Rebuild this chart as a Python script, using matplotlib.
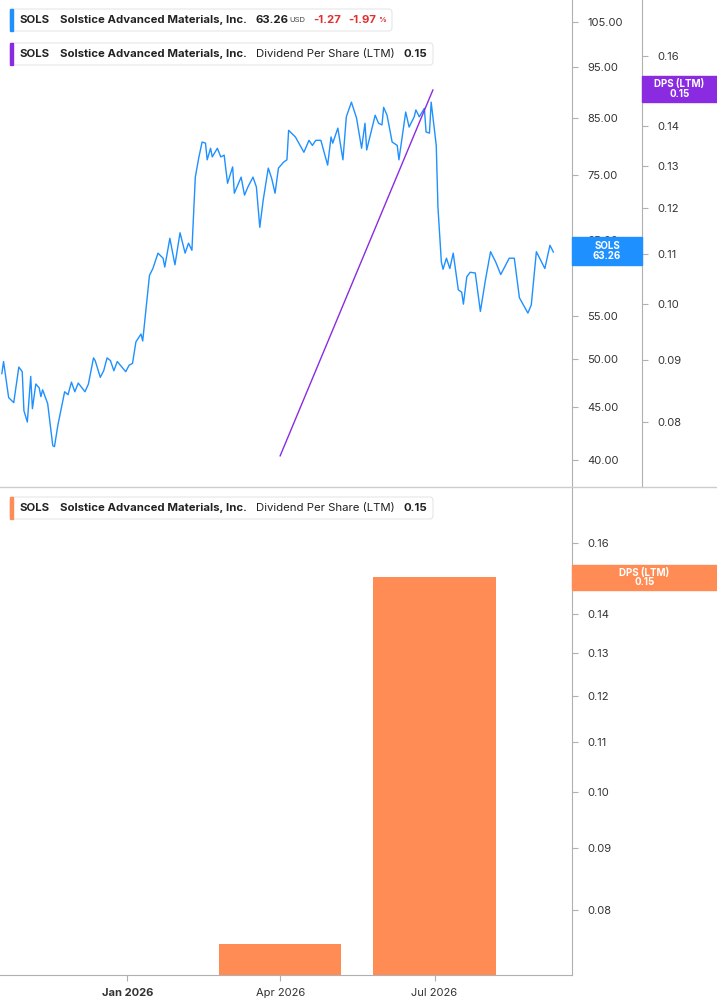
import numpy as np
import pandas as pd
import matplotlib
matplotlib.use("Agg")
import matplotlib.pyplot as plt
import matplotlib.dates as mdates
from matplotlib.patches import Rectangle, FancyBboxPatch
from matplotlib.ticker import FixedLocator, NullLocator

plt.rcParams['font.family'] = ['Inter', 'DejaVu Sans']

base = pd.Timestamp("2026-01-01")
price_days = [-74,-73,-70,-67,-65,-64,-62,-61,-59,-57,-56,-54,-52,-51,-50,-47,-44,-43,-42,-41,-37,-35,-33,-31,-29,-25,-23,-20,-19,-16,-14,-12,-10,-8,-6,-1,1,3,5,8,9,13,15,18,21,22,25,28,31,34,36,38,40,42,44,46,47,49,50,53,55,57,59,62,63,67,69,71,74,76,78,80,83,85,87,89,92,94,95,99,104,107,109,111,114,118,120,121,124,127,129,132,135,138,140,141,146,148,150,151,153,156,159,160,164,166,169,170,172,175,176,178,179,182,183,185,186,188,190,192,195,197,198,200,202,205,208,211,214,217,220,225,228,231,236,238,241,246,249,251]
prices = [48.4,49.7,45.9,45.4,47.8,49.1,48.6,44.6,43.5,48.1,44.8,47.3,46.9,46.0,46.7,45.3,41.3,41.2,42.2,43.2,46.5,46.2,47.5,46.5,47.4,46.5,47.3,50.1,49.8,48.0,48.7,50.1,49.8,48.7,49.7,48.6,49.3,49.5,51.9,52.8,52.0,60.1,61.0,63.1,62.4,61.2,65.2,61.5,66.0,63.1,64.5,63.5,74.6,77.8,80.6,80.4,77.5,79.5,78.0,79.5,78.0,78.3,73.6,76.3,72.0,74.6,71.7,73.0,74.6,73.0,66.8,70.9,76.1,74.4,72.0,76.1,77.1,77.5,82.7,81.5,78.8,80.9,80.0,80.9,80.9,76.6,81.5,80.4,83.1,77.5,85.2,88.0,85.0,79.5,84.0,79.2,85.5,84.0,83.7,87.0,85.5,80.6,80.0,77.5,86.1,83.3,85.2,86.5,85.2,86.8,82.4,82.2,88.0,80.0,69.8,61.9,60.9,62.4,61.0,63.1,58.2,57.9,56.4,59.9,60.5,60.4,55.5,59.5,63.3,61.9,60.2,62.4,62.4,57.2,55.3,56.3,63.3,61.0,64.2,63.26]
dps_line_dates = ["2026-04-01", "2026-06-30"]
dps_line_values = [0.075, 0.15]
bar_dates = ["2026-04-01", "2026-07-01"]
bar_values = [0.075, 0.15]
price_ticks = [40, 45, 50, 55, 65, 75, 85, 95, 105]
dps_ticks = [0.08, 0.09, 0.10, 0.11, 0.12, 0.13, 0.14, 0.16]
xtick_dates = ["2026-01-01", "2026-04-01", "2026-07-01"]
xtick_labels = ["Jan 2026", "Apr 2026", "Jul 2026"]

W, H = 717, 1005
fig = plt.figure(figsize=(W/100, H/100), dpi=100)
def fx(px): return px / W
def fy(py): return 1 - py / H

BLUE = "#1e90ff"; PURPLE = "#8a2be2"; ORANGE = "#ff8c55"; GRID = "#b0b0b0"; TXT = "#333333"

xmin = base + pd.Timedelta(days=-75.1)
xmax = base + pd.Timedelta(days=262)
pdates = [base + pd.Timedelta(days=d) for d in price_days]

# top panel
ax = fig.add_axes([0, fy(487), fx(572), 487/H])
ax.plot(pdates, prices, color=BLUE, lw=1.0)
ax.set_yscale('log')
ax.set_ylim(37.7, 110.2)
ax.set_xlim(xmin, xmax)
ax.xaxis.set_major_locator(NullLocator())

ax2 = ax.twinx()
ax2.plot(pd.to_datetime(dps_line_dates), dps_line_values, color=PURPLE, lw=1.0)
ax2.set_yscale('log')
ax2.set_ylim(0.0707, 0.1779)
ax2.yaxis.set_major_locator(FixedLocator(dps_ticks))
ax2.yaxis.set_minor_locator(NullLocator())
ax2.set_yticklabels([f"{v:.2f}" for v in dps_ticks])
ax2.spines['right'].set_position(('axes', 642/572))
ax2.spines['right'].set_color(GRID)
for s in ['top', 'left', 'bottom']:
    ax2.spines[s].set_visible(False)
ax2.tick_params(axis='y', length=4, color=GRID, labelsize=8, labelcolor=TXT, pad=7)
ax2.set_xlim(xmin, xmax)

ax.yaxis.tick_right()
ax.yaxis.set_label_position('right')
ax.yaxis.set_major_locator(FixedLocator(price_ticks))
ax.yaxis.set_minor_locator(NullLocator())
ax.set_yticklabels([f"{v:.2f}" for v in price_ticks])
ax.tick_params(axis='y', which='both', left=False, labelleft=False, right=True, labelright=True,
               length=4, color=GRID, labelsize=8, labelcolor=TXT, pad=7)
for s in ['top', 'left', 'bottom']:
    ax.spines[s].set_visible(False)
ax.spines['right'].set_color(GRID)

fig.add_artist(plt.Line2D([0, 1], [fy(487), fy(487)], color="#cccccc", lw=1))

# bottom panel
bx = fig.add_axes([0, fy(975), fx(572), (975-487)/H])
bw = pd.Timedelta(days=72)
bottom = 0.05
bx.bar(pd.to_datetime(bar_dates), [v - bottom for v in bar_values], width=bw, bottom=bottom, color=ORANGE)
bx.set_yscale('log')
bx.set_ylim(0.0708, 0.1779)
bx.set_xlim(xmin, xmax)
bx.yaxis.tick_right()
bx.yaxis.set_major_locator(FixedLocator(dps_ticks))
bx.yaxis.set_minor_locator(NullLocator())
bx.set_yticklabels([f"{v:.2f}" for v in dps_ticks])
bx.tick_params(axis='y', length=4, color=GRID, labelsize=8, labelcolor=TXT, pad=7)
bx.xaxis.set_major_locator(FixedLocator(mdates.date2num(pd.to_datetime(xtick_dates))))
bx.set_xticklabels(xtick_labels)
bx.tick_params(axis='x', length=4, color=GRID, labelsize=8, labelcolor=TXT, pad=5)
bx.get_xticklabels()[0].set_fontweight('bold')
for s in ['top', 'left']:
    bx.spines[s].set_visible(False)
bx.spines['right'].set_color(GRID)
bx.spines['bottom'].set_color(GRID)

def badge(x0, x1, y0, y1, color, lines):
    fig.add_artist(Rectangle((fx(x0), fy(y1)), fx(x1-x0), (y1-y0)/H, color=color, zorder=10))
    fig.text(fx((x0+x1)/2), fy((y0+y1)/2), lines, ha='center', va='center', color='white',
             fontsize=7, fontweight='bold', linespacing=0.95, zorder=11)
badge(572, 642, 237, 265, BLUE, "SOLS\n63.26")
badge(642, 717, 76, 102, PURPLE, "DPS (LTM)\n0.15")
badge(572, 717, 565, 590, ORANGE, "DPS (LTM)\n0.15")

def legend(y, x1, color, parts):
    fig.add_artist(FancyBboxPatch((fx(10), fy(y+11)), fx(x1-10), 22/H,
                   boxstyle="round,pad=0,rounding_size=0.004", fc='white', ec='#e6e6e6', lw=0.8, zorder=10))
    fig.add_artist(Rectangle((fx(10), fy(y+11)), fx(3), 22/H, color=color, zorder=11))
    for x, s, kw in parts:
        fig.text(fx(x), fy(y), s, va='center', ha='left', zorder=12, **kw)
FS = 8.2
B = dict(fontsize=FS, fontweight='bold', color='#222222')
N = dict(fontsize=FS, color='#222222')
R = dict(fontsize=FS, fontweight='bold', color='#e03030')
legend(20, 392, BLUE, [(20, "SOLS", B), (60, "Solstice Advanced Materials, Inc.", B), (256, "63.26", B),
                       (289, "USD", dict(fontsize=5.5, color='#444444')), (313, "-1.27", R), (348, "-1.97", R),
                       (378, "%", dict(fontsize=5.5, fontweight='bold', color='#e03030'))])
legend(54, 433, PURPLE, [(20, "SOLS", B), (60, "Solstice Advanced Materials, Inc.", B),
                         (256, "Dividend Per Share (LTM)", N), (403, "0.15", B)])
legend(508, 433, ORANGE, [(20, "SOLS", B), (60, "Solstice Advanced Materials, Inc.", B),
                          (256, "Dividend Per Share (LTM)", N), (403, "0.15", B)])

fig.savefig("out.png", dpi=100, facecolor='white')
